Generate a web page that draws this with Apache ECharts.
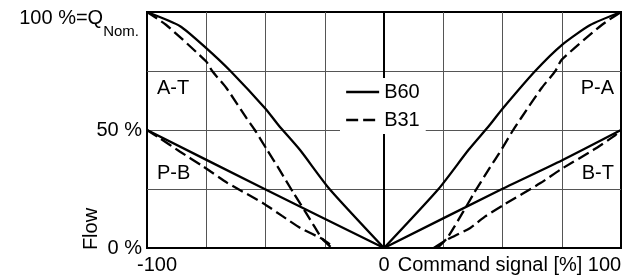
<!DOCTYPE html>
<html>
<head>
<meta charset="utf-8">
<script src="https://cdn.jsdelivr.net/npm/echarts@6/dist/echarts.min.js"></script>
<style>
  html, body { margin: 0; padding: 0; background: #fff; }
  #chart { width: 633px; height: 278px; }
</style>
</head>
<body>
<div id="chart"></div>
<script>
// flow [%] against command signal [%]
const b60AT = [[-100, 100], [-86, 94], [-75, 84.7], [-64.8, 75], [-50, 59], [-44.5, 52], [-35.5, 41.6], [-23, 25], [0, 0]];
const b60PA = [[0, 0], [23, 25], [35.7, 41.6], [44.5, 52], [50, 59], [63.8, 75], [75, 86], [87, 94.5], [100, 100]];
const b60PB = [[-100, 50], [-50.4, 25], [0, 0]];
const b60BT = [[0, 0], [49.8, 25], [75, 37.1], [100, 50]];

const b31AT = [[-100, 100], [-92, 94.6], [-75, 79], [-72.5, 75], [-66.5, 67.8], [-58, 55], [-54.5, 50], [-49.4, 41.7], [-44, 33], [-38.3, 23.5], [-33.3, 15.5], [-29, 8.5], [-26, 3.8], [-22, 0]];
const b31PA = [[22.5, 0], [26.5, 4], [29.5, 8.7], [33.5, 15.5], [38, 23.3], [44, 33], [48.5, 40], [54.5, 50], [58, 55.3], [66.5, 67.8], [72.3, 75], [75, 79.8], [92, 94.6], [100, 100]];
const b31PB = [[-100, 50], [-94.7, 46.6], [-86.2, 40.9], [-77, 35], [-66, 27.5], [-62.3, 25.4], [-51, 19], [-43, 13.6], [-35.3, 8.5], [-25.5, 3.5], [-21, 0]];
const b31BT = [[21, 0], [26.5, 3.5], [36.4, 8.5], [42.7, 13.4], [50.5, 18.3], [66, 27.5], [74.4, 33.2], [88.4, 41.6], [96.9, 47.3], [100, 50]];

const xLabels = { '-100': '{l|-100}', '0': '0', '100': '{r|Command signal [%] 100}' };
const yLabels = { '0': '0 %', '50': '50 %', '100': '{m|100 %=Q}{s|Nom.}' };
const zones = [
  { text: 'A-T', x: 157, y: 88, align: 'left' },
  { text: 'P-B', x: 157, y: 173, align: 'left' },
  { text: 'P-A', x: 614, y: 88, align: 'right' },
  { text: 'B-T', x: 614, y: 173, align: 'right' },
];

const FONT = '"Liberation Sans", Arial, Helvetica, sans-serif';

function curve(name, data, dashed) {
  return {
    name,
    type: 'line',
    data,
    symbol: 'none',
    smooth: 0.2,
    silent: true,
    lineStyle: { color: '#000', width: 2.3, type: dashed ? [12, 5] : 'solid' },
    itemStyle: { color: '#000' },
  };
}

const chart = echarts.init(document.getElementById('chart'));
chart.setOption({
  animation: false,
  backgroundColor: '#fff',
  textStyle: { fontFamily: FONT },
  grid: {
    left: 147, right: 12, top: 12, bottom: 30,
    show: true, borderColor: '#000', borderWidth: 2, backgroundColor: 'transparent',
  },
  legend: {
    data: ['B60', 'B31'],
    orient: 'vertical',
    left: 340,
    top: 78,
    itemWidth: 33,
    itemHeight: 16,
    itemGap: 8,
    padding: [4, 6, 4, 5],
    backgroundColor: '#fff',
    selectedMode: false,
    itemStyle: { color: 'rgba(0,0,0,0)', borderColor: 'rgba(0,0,0,0)', borderWidth: 0, opacity: 0 },
    lineStyle: { width: 2.3 },
    textStyle: { fontSize: 20, color: '#000', fontFamily: FONT },
  },
  xAxis: {
    type: 'value',
    min: -100,
    max: 100,
    interval: 25,
    axisLine: { show: true, lineStyle: { color: '#000', width: 2 } },
    axisTick: { show: false },
    splitLine: { show: true, showMinLine: false, showMaxLine: false, lineStyle: { color: '#555', width: 1 } },
    axisLabel: {
      margin: 7,
      color: '#000',
      fontSize: 20,
      fontFamily: FONT,
      formatter: (v) => xLabels[String(v)] || '',
      rich: {
        l: { fontSize: 20, fontFamily: FONT, color: '#000', padding: [0, 0, 0, 20] },
        r: { fontSize: 20, fontFamily: FONT, color: '#000', padding: [0, 223, 0, 0] },
      },
    },
  },
  yAxis: {
    type: 'value',
    min: 0,
    max: 100,
    interval: 25,
    axisLine: { show: true, lineStyle: { color: '#000', width: 2 } },
    axisTick: { show: false },
    splitLine: { show: true, showMinLine: false, showMaxLine: false, lineStyle: { color: '#555', width: 1 } },
    axisLabel: {
      margin: 5,
      color: '#000',
      fontSize: 20,
      fontFamily: FONT,
      formatter: (v) => yLabels[String(v)] || '',
      rich: {
        m: { fontSize: 20, lineHeight: 20, fontFamily: FONT, color: '#000', verticalAlign: 'top', padding: [6, 0, 0, 0] },
        s: { fontSize: 15, lineHeight: 15, fontFamily: FONT, color: '#000', verticalAlign: 'top', padding: [22, 3, 0, 0] },
      },
    },
  },
  graphic: [
    {
      type: 'text',
      x: 91,
      y: 229,
      rotation: Math.PI / 2,
      style: { text: 'Flow', font: '20px ' + FONT, fill: '#000', align: 'center', verticalAlign: 'middle' },
    },
  ].concat(zones.map((z) => ({
    type: 'text',
    x: z.x,
    y: z.y,
    z: 10,
    style: { text: z.text, font: '20px ' + FONT, fill: '#000', align: z.align, verticalAlign: 'middle' },
  }))),
  series: [
    curve('B60', b60AT, false),
    curve('B60', b60PA, false),
    curve('B60', b60PB, false),
    curve('B60', b60BT, false),
    curve('B31', b31AT, true),
    curve('B31', b31PA, true),
    curve('B31', b31PB, true),
    curve('B31', b31BT, true),
  ],
});
</script>
</body>
</html>
